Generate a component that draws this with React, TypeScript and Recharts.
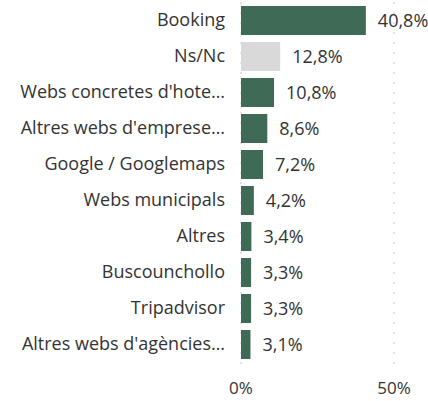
import { Bar, BarChart, CartesianGrid, Cell, LabelList, XAxis, YAxis } from "recharts"

const categories = [
  "Booking",
  "Ns/Nc",
  "Webs concretes d'hote…",
  "Altres webs d'emprese…",
  "Google / Googlemaps",
  "Webs municipals",
  "Altres",
  "Buscounchollo",
  "Tripadvisor",
  "Altres webs d'agències…",
]

const values = [40.8, 12.8, 10.8, 8.6, 7.2, 4.2, 3.4, 3.3, 3.3, 3.1]

const xTicks = [0, 50]

const data = categories.map((name, i) => ({ name, value: values[i] }))

const font = "'Open Sans', sans-serif"

const formatPct = (v: number) => v.toFixed(1).replace(".", ",") + "%"

export default function App() {
  return (
    <div style={{ position: "absolute", left: 0, top: 0, background: "#fff" }}>
      <BarChart
        width={428}
        height={401}
        data={data}
        layout="vertical"
        margin={{ top: 2, right: 34, bottom: 0, left: 0 }}
        style={{ fontFamily: font }}
      >
        <CartesianGrid
          horizontal={false}
          stroke="#c8c8c8"
          strokeDasharray="2 8"
        />
        <XAxis
          type="number"
          domain={[0, 50]}
          ticks={xTicks}
          tickFormatter={(v) => v + "%"}
          axisLine={false}
          tickLine={false}
          tickSize={0}
          tickMargin={10}
          height={29}
          tick={{ fill: "#333", fontSize: 17, fontFamily: font }}
        />
        <YAxis
          type="category"
          dataKey="name"
          width={241}
          interval={0}
          axisLine={false}
          tickLine={false}
          tickSize={0}
          tickMargin={16}
          padding={{ top: 0, bottom: 10 }}
          tick={{ fill: "#333", fontSize: 18, fontFamily: font }}
        />
        <Bar dataKey="value" barSize={29} isAnimationActive={false}>
          {data.map((d) => (
            <Cell key={d.name} fill={d.name === "Ns/Nc" ? "#d9d9d9" : "#3e6a56"} />
          ))}
          <LabelList
            dataKey="value"
            position="right"
            offset={12}
            formatter={(v: any) => formatPct(Number(v))}
            style={{ fill: "#333", fontSize: 18, fontFamily: font }}
          />
        </Bar>
      </BarChart>
    </div>
  )
}
